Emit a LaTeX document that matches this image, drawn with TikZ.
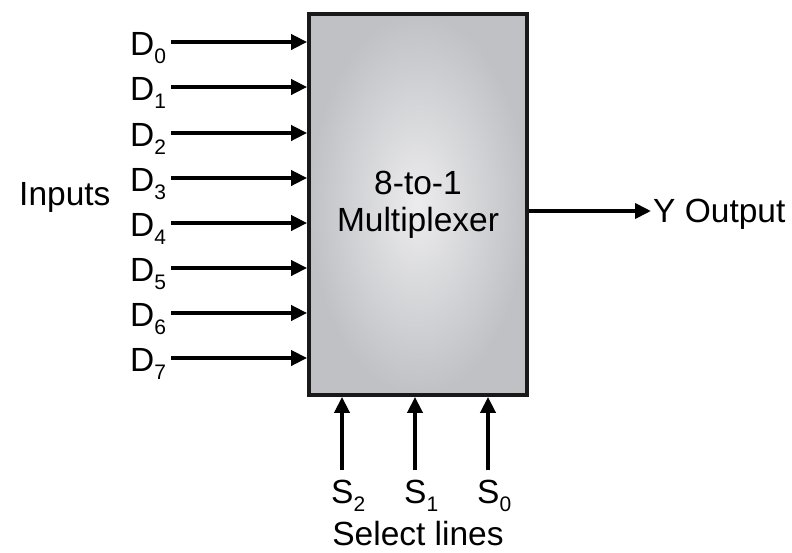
\documentclass[tikz,border=0pt]{standalone}
\usepackage{fontspec}
\setmainfont{Liberation Sans}
\usetikzlibrary{arrows.meta,calc}
\newcommand{\mysub}[1]{\raisebox{-8pt}{\fontsize{21}{21}\selectfont #1}}
\tikzset{
  lbl/.style={inner sep=0pt, font=\fontsize{33.5}{37}\selectfont, text=black},
  sig/.style={line width=3.8pt, -{Triangle[length=16pt,width=15pt]}},
  muxbox/.style={draw=black!90, line width=3.8pt, minimum width=218pt, minimum height=381pt,
    inner color={rgb,255:red,236;green,236;blue,238}, outer color={rgb,255:red,192;green,193;blue,197},
    align=center, font=\fontsize{33.5}{37}\selectfont, inner sep=0pt}
}
\begin{document}
\begin{tikzpicture}[x=1pt,y=-1pt]
\useasboundingbox (0,0) rectangle (792,552);
\node[muxbox] (mux) at (418,204.5) {8-to-1\\Multiplexer};
% inputs
\foreach \i/\y in {0/42,1/87,2/133,3/178,4/223,5/268,6/313,7/358}{
  \coordinate (d\i) at (171,\y);
  \node[lbl, anchor=base west] (ld\i) at (130,\y+13) {D\mysub{\i}};
  \draw[sig] (d\i) -- (d\i -| mux.west);
}
\node[lbl, anchor=base west] (inputs) at (19,205) {Inputs};
% output
\coordinate (yend) at (651,211);
\draw[sig] (mux.east |- yend) -- (yend);
\node[lbl, anchor=base west] (yout) at (653,222) {Y Output};
% select lines
\foreach \i/\x in {2/342,1/415,0/488}{
  \coordinate (s\i) at (\x,470);
  \node[lbl, anchor=base west] (ls\i) at (\x-11,503) {S\mysub{\i}};
  \draw[sig] (s\i) -- (s\i |- mux.south);
}
\node[lbl, anchor=base] (sel) at (418,545) {Select lines};
\end{tikzpicture}
\end{document}
